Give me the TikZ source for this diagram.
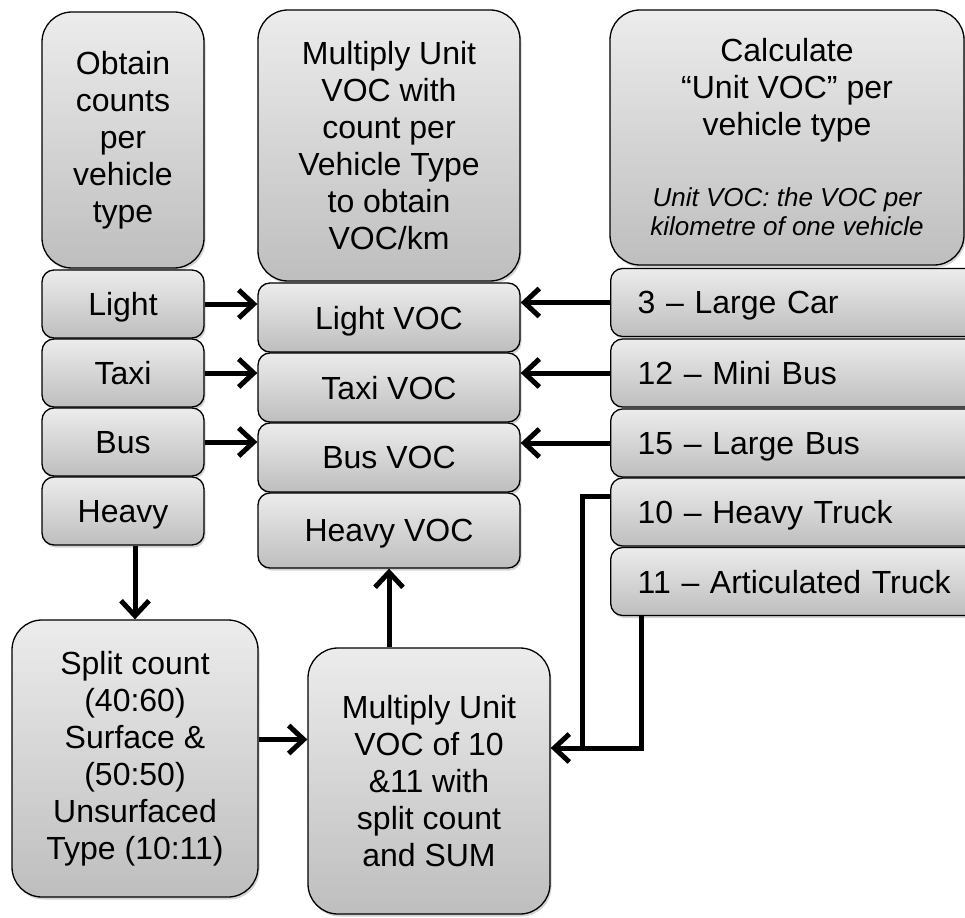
\documentclass[tikz,border=0pt]{standalone}
\usepackage{fontspec}
\setmainfont{Liberation Sans}
\usetikzlibrary{arrows.meta,shadows}
\definecolor{boxtop}{RGB}{236,236,236}
\definecolor{boxbottom}{RGB}{190,190,190}
\newcommand{\unitnote}[1]{{\fontsize{26}{29}\itshape\selectfont #1}}

\begin{document}
\begin{tikzpicture}[x=1pt,y=-1pt,
  box/.style={draw,line width=1.3pt,rounded corners=12pt,top color=boxtop,bottom color=boxbottom,
    drop shadow={shadow xshift=1.5pt,shadow yshift=-2.5pt,opacity=0.35},
    inner sep=0pt,align=center,font=\fontsize{32}{37}\selectfont},
  bigbox/.style={box,rounded corners=30pt},
  cell/.style={box,text depth=0pt},
  rowbox/.style={cell,anchor=west,minimum height=68pt,text width=330pt,inner xsep=27pt,align=left},
  flow/.style={line width=5pt,-{Straight Barb[length=15pt,width=28pt]}},
  link/.style={line width=5pt}]
  \useasboundingbox (0,0) rectangle (965,917);
  \clip (0,0) rectangle (965,917);
  % Left column: counts
  \node[bigbox,minimum width=162pt,minimum height=256pt] (obtain) at (123,140) {Obtain\\counts\\per\\vehicle\\type};
  \node[cell,minimum width=162pt,minimum height=68pt] (light) at (123,304) {Light};
  \node[cell,minimum width=162pt,minimum height=68pt] (taxi) at (123,373) {Taxi};
  \node[cell,minimum width=162pt,minimum height=68pt] (bus) at (123,442) {Bus};
  \node[cell,minimum width=162pt,minimum height=68pt] (heavy) at (123,511) {Heavy};
  % Middle column: VOC per type
  \node[bigbox,minimum width=262pt,minimum height=271pt] (multiply) at (389,145.5) {Multiply Unit\\VOC with\\count per\\Vehicle Type\\to obtain\\VOC/km};
  \node[cell,minimum width=262pt,minimum height=69pt] (lightvoc) at (389,317.5) {Light VOC};
  \node[cell,minimum width=262pt,minimum height=69pt] (taxivoc) at (389,387.5) {Taxi VOC};
  \node[cell,minimum width=262pt,minimum height=69pt] (busvoc) at (389,457.5) {Bus VOC};
  \node[cell,minimum width=262pt,minimum height=75pt] (heavyvoc) at (389,530.5) {Heavy VOC};
  % Right column: unit VOC
  \node[bigbox,minimum width=354pt,minimum height=255pt] (calc) at (787,137.5) {Calculate\\“Unit VOC” per\\vehicle type\\[34pt]\unitnote{Unit VOC: the VOC per}\\[-8pt]\unitnote{kilometre of one vehicle}};
  \node[rowbox] (largecar) at (610,302.5) {3 -- Large Car};
  \node[rowbox] (minibus) at (610,373) {12 -- Mini Bus};
  \node[rowbox] (largebus) at (610,443) {15 -- Large Bus};
  \node[rowbox] (heavytruck) at (610,512) {10 -- Heavy Truck};
  \node[rowbox] (artic) at (610,581.5) {11 -- Articulated Truck};
  % Bottom: heavy vehicles
  \node[bigbox,minimum width=246pt,minimum height=277pt] (split) at (135,758.5) {Split count\\(40:60)\\Surface \&\\(50:50)\\Unsurfaced\\Type (10:11)};
  \node[bigbox,minimum width=242pt,minimum height=266pt] (sum) at (429,781) {Multiply Unit\\VOC of 10\\\&11 with\\split count\\and SUM};
  % Connectors
  \foreach \a/\b in {light/lightvoc,taxi/taxivoc,bus/busvoc}
    \draw[flow] (\a.east) -- (\a.east -| \b.west);
  \foreach \a/\b in {largecar/lightvoc,minibus/taxivoc,largebus/busvoc}
    \draw[flow] (\a.west) -- (\a.west -| \b.east);
  \draw[flow] (heavy.south -| split.north) -- (split.north);
  \draw[flow] (sum.north -| heavyvoc.south) -- (heavyvoc.south);
  \draw[flow] ([yshift=19pt]split.east) -- ([yshift=19pt]split.east -| sum.west);
  \coordinate (join) at (582,748);
  \draw[flow] ([yshift=16pt]heavytruck.west) -| (join) -- (join -| sum.east);
  \draw[link] ([xshift=31pt]artic.south west) |- (join);
\end{tikzpicture}
\end{document}
